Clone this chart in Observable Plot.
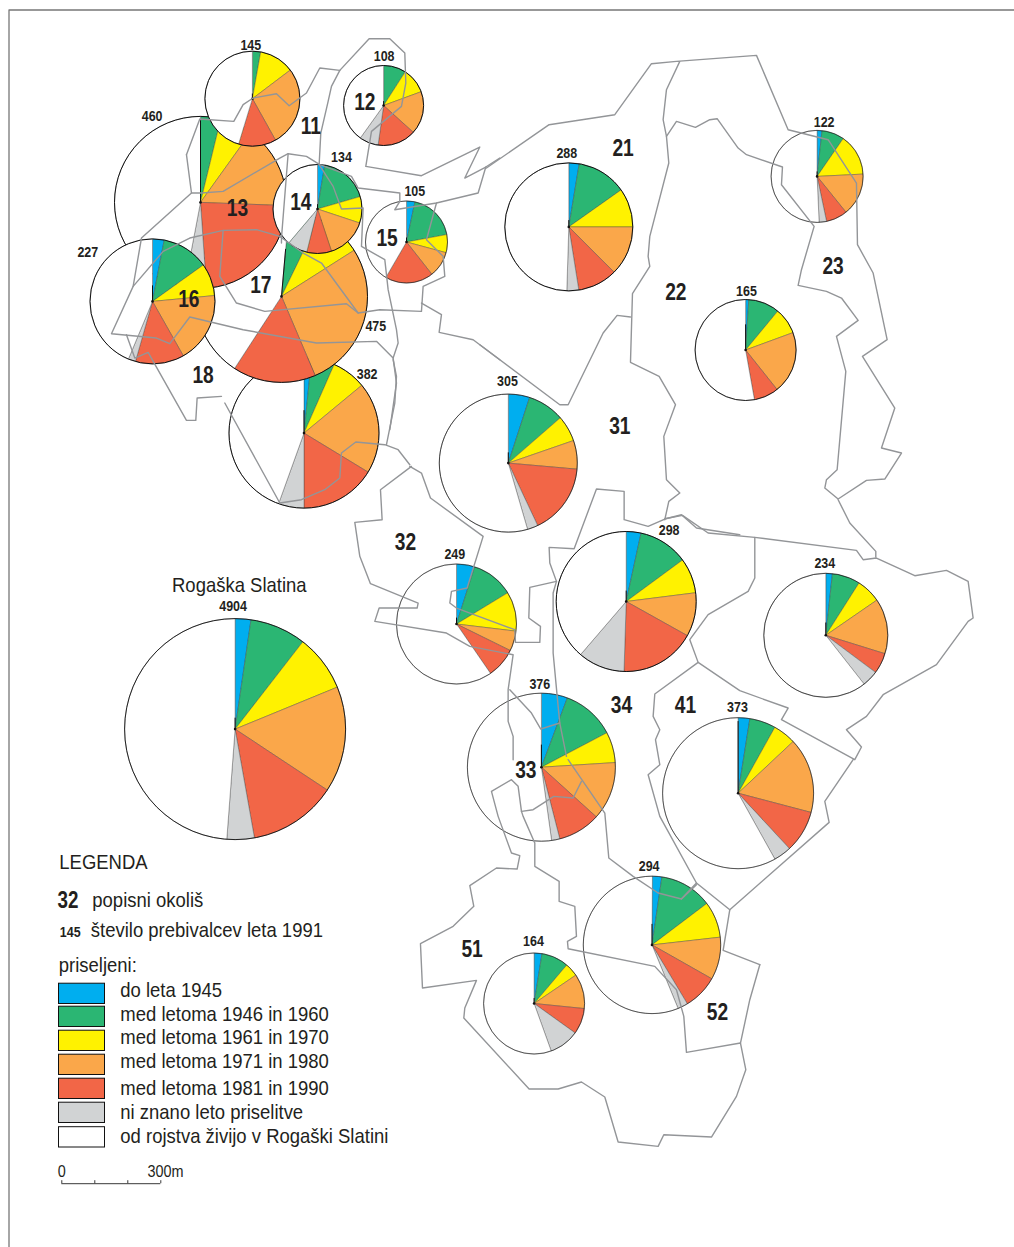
<!DOCTYPE html>
<html><head><meta charset="utf-8">
<script src="https://cdn.jsdelivr.net/npm/d3@7"></script>
<script src="https://cdn.jsdelivr.net/npm/@observablehq/plot@0.6"></script>
<style>html,body{margin:0;padding:0;background:#fff}svg{display:block}</style>
</head><body><div id="chart"></div>
<script>
// Categories of the legend
const categories = ["do leta 1945","med letoma 1946 in 1960","med letoma 1961 in 1970","med letoma 1971 in 1980","med letoma 1981 in 1990","ni znano leto priselitve","od rojstva živijo v Rogaški Slatini"];
const palette = ["#00aeef","#2bb673","#fff200","#faa74a","#f26647","#d1d3d4","#ffffff"];

// Pies, in painting order (population 1991 and shares in percent)
const population = [382,475,460,145,134,227,108,105,288,122,165,305,298,249,376,234,373,294,164,4904];
const toYear1945 = [1.6,0,0,0,2.6,3.0,0,3.3,2.6,1.7,1.0,5.0,3.4,4.9,5.7,1.7,2.5,2.3,2.5,2.3];
const y1946to1960 = [5.0,5.8,3.8,2.8,17.9,12.1,9.1,18.8,12.6,7.9,10.0,8.6,11.5,11.4,11.6,7.3,5.6,12.4,8.7,8.2];
const y1961to1970 = [7.4,8.8,6.1,11.9,9.6,8.4,10.3,7.1,9.8,14.6,8.4,6.1,8.1,10.6,6.7,6.4,4.9,8.5,4.3,8.3];
const y1971to1980 = [19.7,27.6,15.7,27.2,14.8,18.3,17.3,10.2,12.5,15.0,19.9,6.7,10.1,5.4,12.7,14.4,16.1,10.0,11.1,15.5];
const y1981to1990 = [16.3,15.6,23.3,12.8,9.0,12.6,15.5,19.0,10.0,7.5,7.9,16.6,17.4,8.1,9.3,5.4,9.0,8.2,8.3,12.9];
const unknownYear = [5.5,0,4.1,0,7.3,1.9,7.7,0,3.0,2.6,0,2.5,10.8,0,1.8,4.2,3.8,2.4,9.6,4.0];
const sinceBirth = [44.5,42.2,47.0,45.3,38.8,43.7,40.1,41.6,49.5,50.7,52.8,54.5,38.7,59.6,52.2,60.6,58.1,56.3,55.5,48.8];
const series = [toYear1945,y1946to1960,y1961to1970,y1971to1980,y1981to1990,unknownYear,sinceBirth];

// Position of each pie on the map and its radius, in map units
const pieX = [304.2,281.7,200.7,252.6,317.7,152.7,383.8,406.7,569,817.3,745.8,508.5,626.4,456.7,541.6,826,738.3,652.2,534.3,235.3];
const pieY = [433.4,296.7,202.7,99,209.3,301.7,105.8,242.3,227.2,176.7,350.3,463.4,601.8,624.3,767.5,635.6,793.5,945.2,1003.8,729.4];
const pieR = [75,86,86,47.5,44.5,62.5,40,41,64,46,50.5,69,70,60,74,62,75.5,68.7,50.5,110.5];
const pieTurn = [0,5,0,0,0,0,0,0,0,0,0,0,0,0,0,0,0,0,0,0];
const blackEdge = [0.3,0.55,0.95,0.1,0.1,0.25,0.1,0.1,0.1,0.1,0.5,0.15,0.15,0.1,0.3,0.2,0.95,0.3,0.1,0.1];
const outlineWeight = [1,1,1,1,1,1,1,0.6,1,0.6,0.9,0.7,1,0.6,0.6,0.7,0.6,0.6,0.6,0.9];

// Census district numbers
const districts = ["11","12","13","14","15","16","17","18","21","22","23","31","32","33","34","41","51","52"];
const districtX = [311,365,237.7,301,387.3,189,261,203.3,623.3,676,833.3,620,405.7,526,621.7,685.7,472.3,717.7];
const districtY = [134,110,216,210,246.7,307.7,293.3,383.3,156,300,274,434,550,778.3,713.3,713.3,957.7,1020];

// Population labels (same order as population)
const labelX = [367.3,376,152.3,251,341.7,88,384.3,415,567,824.3,746.7,507.7,669.3,455,540,825,737.7,649.3,533.7,233.3];
const labelY = [379,331,121,50.7,162.7,257.7,61,196.7,158.3,127.7,296,386.7,535,559,689,568.3,712.3,871,946.7,611.7];

const boundaries = [
 [80,30,[[320,375],[360,268],[462,275],[490,225],[520,205],[590,192],[628,228],[680,190],[720,115],[780,122],[868,27],[930,27],[975,70],[978,160],[965,230],[875,305],[858,410],[1025,438],[1200,352],[1155,445],[1218,412],[1260,385]]],
 [80,30,[[1218,412],[1195,490],[1070,520],[945,540],[960,515],[960,490],[835,475],[815,440],[720,405],[680,380],[625,372],[600,385],[430,485],[365,490],[335,490],[320,375]]],
 [80,30,[[780,122],[755,170],[745,215],[723,310],[718,405],[760,470],[785,538],[850,535],[845,650],[915,690],[925,780],[950,900],[955,940],[940,985],[950,1060],[930,1200]]],
 [80,30,[[1070,520],[1040,630],[1090,680],[1095,740],[1030,770],[1025,845],[900,840],[835,850],[725,700],[670,670],[600,620],[530,600],[430,602],[330,625],[250,665],[160,770],[95,912],[230,925],[270,942],[330,862],[490,900],[710,940],[890,935],[940,985]]],
 [80,30,[[430,602],[420,740],[470,820],[555,845],[800,822],[835,850]]],
 [80,30,[[625,372],[605,625],[605,640]]],
 [80,30,[[335,490],[185,625],[160,770]]],
 [80,30,[[140,915],[165,985],[205,968],[320,1172],[348,1172],[352,1105],[425,1100]]],
 [225,385,[[0,55],[165,355],[230,345],[300,315],[345,280],[350,205],[393,172],[480,180],[520,195],[555,240]]],
 [80,30,[[1025,820],[1085,855],[1078,908],[1180,930],[1260,990]]],
 [340,360,[[140,255],[165,130],[170,50],[160,0]]],
 [340,360,[[210,320],[245,340],[272,415],[430,530],[382,685],[335,695],[330,730],[350,745],[525,810],[527,848],[600,848],[602,800],[567,775],[570,683],[650,665],[630,610],[628,563],[703,567],[770,388],[853,395],[853,480],[925,500],[975,478],[1025,465],[1070,505],[1200,525]]],
 [340,360,[[215,320],[122,390],[127,480],[45,488],[60,590],[92,672],[235,730],[232,745],[118,745],[105,785],[320,820],[390,860],[520,885],[505,990],[505,1085],[520,1130],[520,1200]]],
 [340,360,[[510,990],[575,1060],[603,1108],[660,1090]]],
 [340,360,[[650,665],[640,700],[640,880],[655,1040],[660,1090],[680,1190]]],
 [400,760,[[335,60],[275,95],[295,170],[335,280],[360,288],[352,328],[290,325],[210,378],[222,440],[160,500],[62,552],[68,685],[230,662],[195,745],[192,775],[388,988],[475,988],[545,967],[615,1012],[655,1147],[775,1160],[792,1125],[935,1132],[1010,1010],[1038,930],[1022,850],[860,878],[852,770],[830,690],[765,620],[505,567],[503,545],[530,530],[525,440],[478,425],[478,365],[405,320],[405,250],[370,170],[365,155],[355,80],[335,60]]],
 [400,760,[[365,155],[400,150],[462,110],[520,115],[545,65]]],
 [400,760,[[505,0],[615,160],[627,295],[700,350],[775,400],[845,418],[890,375]]],
 [400,760,[[1080,615],[970,572],[990,450]]],
 [400,760,[[1080,615],[1050,720],[1022,850]]],
 [480,40,[[20,385],[208,255],[405,225],[515,72],[590,65],[830,47],[925,270],[1045,300],[1130,430],[1133,615],[1180,700],[1222,900],[1148,950],[1245,1105],[1205,1225],[1265,1240],[1215,1318],[1160,1322],[1075,1378],[1035,1345],[1040,1320],[1072,1290],[1098,995],[1070,890],[1135,842],[1085,775],[1040,755],[955,737],[965,690],[1003,560],[905,435],[908,382],[800,345],[775,325],[712,237],[690,240],[647,263],[590,245],[560,290],[550,240],[560,150],[600,65]]],
 [480,40,[[560,290],[567,370],[510,590],[505,650],[510,680],[458,762],[452,968],[538,1010],[587,1095],[552,1190],[560,1320],[600,1360],[567,1385],[555,1440]]],
 [480,40,[[452,832],[412,827],[370,880],[265,1095],[240,1095],[0,915]]],
 [620,500,[[135,57],[188,47],[265,100],[405,113],[710,152],[730,180],[770,175],[885,228],[980,212],[1045,245],[1060,355],[1045,365],[950,495],[790,585],[740,650],[680,690],[725,742],[705,780],[485,660],[505,625],[360,573],[235,488],[105,583],[100,650],[120,690],[107,720],[120,795],[85,825],[120,950],[230,1150],[330,1230],[628,968],[615,905],[700,780]]],
 [620,500,[[768,172],[768,155],[690,70],[655,0]]],
 [620,500,[[405,113],[405,235],[385,275],[265,345],[210,420],[235,488]]],
 [620,500,[[230,1150],[185,1197]]]
];

// Legend text
const legendTitle = "LEGENDA";
const regionExample = "32", regionExampleText = "popisni okoliš";
const popExample = "145", popExampleText = "število prebivalcev leta 1991";
const swatchHeading = "priseljeni:";
const swatchTop = [984,1007,1031,1055,1079,1103,1127.5];
const swatchBase = [997,1021,1044,1068,1095,1119,1143];
const scaleTicks = [62,95,128,161];

const sans = "'Liberation Sans','Arial',sans-serif";
const keys = categories;

const arcPts = (p, a0, a1) => {
  const pts = [[p.x, p.y]];
  const n = Math.max(1, Math.ceil((a1 - a0) / 2));
  for (let i = 0; i <= n; i++) {
    const a = (a0 + (a1 - a0) * i / n) * Math.PI / 180;
    pts.push([p.x + p.r * Math.sin(a), p.y - p.r * Math.cos(a)]);
  }
  pts.push([p.x, p.y]);
  return pts;
};

const pies = population.map((pop, i) => ({pop, i, x: pieX[i], y: pieY[i], r: pieR[i], turn: pieTurn[i], edge: blackEdge[i], weight: outlineWeight[i], shares: series.map(s => s[i])}));

const pieMarks = pies.flatMap(p => {
  const rows = [];
  let a = p.turn;
  p.shares.forEach((v, k) => {
    if (v <= 0) return;
    const a1 = a + v * 3.6;
    arcPts(p, a, a1).forEach(([x, y]) => rows.push({x, y, cat: keys[k], key: k}));
    a = a1;
  });
  const a0 = p.turn * Math.PI / 180;
  const spoke = [{x: p.x, y: p.y}, {x: p.x + p.edge * p.r * Math.sin(a0), y: p.y - p.edge * p.r * Math.cos(a0)}];
  return [
    Plot.line(rows, {x: "x", y: "y", z: "key", fill: "cat", stroke: "#444", strokeWidth: 0.4, strokeLinejoin: "round"}),
    Plot.dot([p], {x: "x", y: "y", r: p.r, stroke: "#111", strokeWidth: p.weight, fill: "none"}),
    Plot.line(spoke, {x: "x", y: "y", stroke: "#111", strokeWidth: 1}),
    Plot.dot([p], {x: "x", y: "y", r: 1.3, fill: "#111", stroke: "none"})
  ];
});

const boundaryRows = boundaries.flatMap(([ox, oy, pts], id) => pts.map(([x, y]) => ({id, x: ox + x / 3, y: oy + y / 3})));

const swatches = categories.map((cat, i) => ({cat, y1: swatchTop[i], y2: swatchTop[i] + 20.3, base: swatchBase[i]}));
const districtRows = districts.map((t, i) => ({t, x: districtX[i], y: districtY[i]}));
const labelRows = population.map((t, i) => ({t: String(t), x: labelX[i], y: labelY[i]}));
const txt = (t, x, y, fontSize, opt = {}) => Plot.text([{t, x, y}], {x: "x", y: "y", text: "t", fontSize, textAnchor: "start", lineAnchor: "bottom", fill: "#231f20", fontFamily: sans, ...opt});

const chart = Plot.plot({
  width: 1014, height: 1247,
  margin: 0, marginTop: 0, marginRight: 0, marginBottom: 0, marginLeft: 0,
  x: {domain: [0.7, 1014.7], range: [0, 1014], axis: null},
  y: {domain: [0.8, 1247.8], range: [0, 1247], axis: null},
  color: {domain: categories, range: palette},
  style: {background: "#fff", fontFamily: sans},
  marks: [
    Plot.line([{x: 1015, y: 10.3}, {x: 9.2, y: 10.3}, {x: 9.2, y: 1248}], {x: "x", y: "y", stroke: "#777", strokeWidth: 1.3}),
    ...pieMarks,
    Plot.line(boundaryRows, {x: "x", y: "y", z: "id", stroke: "#939598", strokeWidth: 1.4, strokeLinejoin: "round"}),
    Plot.text(districtRows, {x: "x", y: "y", text: "t", fontSize: 24, fontWeight: "bold", textAnchor: "middle", lineAnchor: "bottom", fill: "#231f20", fontFamily: sans}),
    Plot.text(labelRows, {x: "x", y: "y", text: "t", fontSize: 14.5, fontWeight: "bold", textAnchor: "middle", lineAnchor: "bottom", fill: "#231f20", fontFamily: sans}),
    txt("Rogaška Slatina", 239.5, 591.8, 21, {textAnchor: "middle"}),
    txt(legendTitle, 59.5, 868.8, 21),
    txt(regionExample, 57.8, 908, 23.5, {fontWeight: "bold"}),
    txt(regionExampleText, 92.5, 906.8, 21),
    txt(popExample, 60, 937.5, 14.5, {fontWeight: "bold"}),
    txt(popExampleText, 91, 936.8, 21),
    txt(swatchHeading, 59, 972.5, 21),
    Plot.rect(swatches, {x1: () => 59.2, x2: () => 105.2, y1: "y1", y2: "y2", fill: "cat", stroke: "#111", strokeWidth: 1}),
    Plot.text(swatches, {x: () => 120.5, y: "base", text: "cat", fontSize: 21, textAnchor: "start", lineAnchor: "bottom", fill: "#231f20", fontFamily: sans}),
    Plot.ruleY([1184], {x1: scaleTicks[0], x2: scaleTicks[3], stroke: "#222", strokeWidth: 0.9}),
    Plot.ruleX(scaleTicks, {y1: 1181, y2: 1184, stroke: "#222", strokeWidth: 0.9}),
    txt("0", 58, 1177, 16),
    txt("300m", 147.7, 1177, 16)
  ]
});
document.getElementById("chart").append(chart);

// The map's lettering is a narrow cut: condense the installed sans to match.
chart.querySelectorAll("text").forEach(el => {
  const cs = getComputedStyle(el);
  const size = parseFloat(cs.fontSize), bold = +cs.fontWeight >= 600;
  const k = bold ? (size > 20 ? 0.8 : 0.86) : (size < 18 ? 0.9 : 0.88);
  const w = el.getComputedTextLength();
  if (w > 0) {
    el.setAttribute("textLength", (w * k).toFixed(2));
    el.setAttribute("lengthAdjust", "spacingAndGlyphs");
  }
});
</script></body></html>
